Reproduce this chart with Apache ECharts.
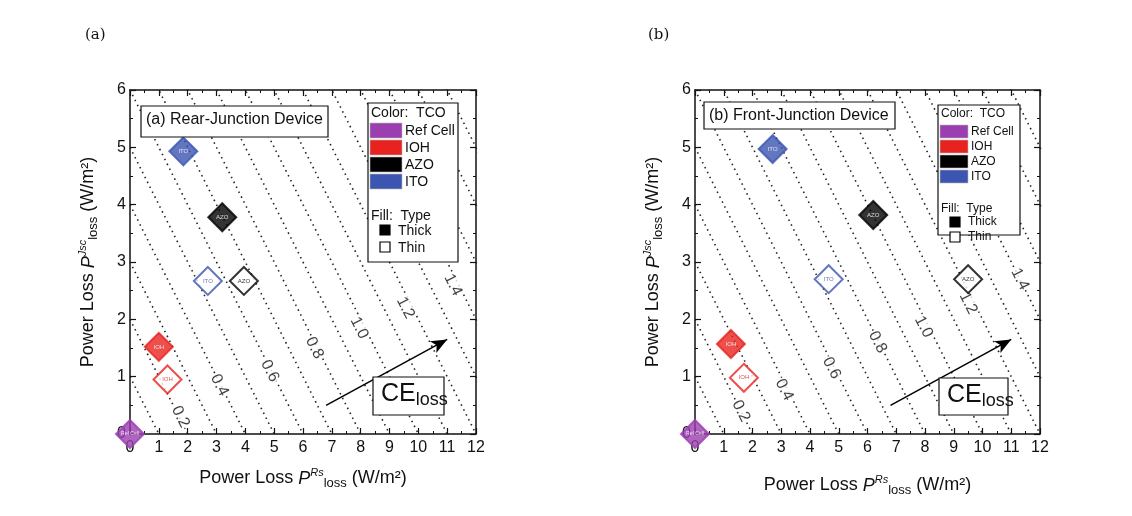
<!DOCTYPE html><html><head><meta charset="utf-8">
<script src="https://cdn.jsdelivr.net/npm/echarts@6/dist/echarts.min.js"></script>
<style>body{margin:0;background:#fff}#c{width:1132px;height:516px}</style></head><body><div id="c"></div>
<script>
const tcoNames=['Ref Cell','IOH','AZO','ITO'];
const tcoColors={'Ref Cell':'#9b3fb0','IOH':'#e8231f','AZO':'#000000','ITO':'#3b55b0'};
const shortLabel={'Ref Cell':'Ref Cell','IOH':'IOH','AZO':'AZO','ITO':'ITO'};
// [tco, type, Rs loss, Jsc loss]
const rearPoints=[['Ref Cell','thick',0,0],['IOH','thick',1.0,1.52],['IOH','thin',1.3,0.95],['ITO','thick',1.85,4.93],['ITO','thin',2.7,2.67],['AZO','thick',3.2,3.78],['AZO','thin',3.95,2.67]];
const frontPoints=[['Ref Cell','thick',0,0],['IOH','thick',1.25,1.57],['IOH','thin',1.7,0.98],['ITO','thick',2.7,4.97],['ITO','thin',4.65,2.7],['AZO','thick',6.2,3.82],['AZO','thin',9.5,2.7]];
const contourLevels=[1,2,3,4,5,6,7,8,9,10,11,12,13,14,15,16,17,18];
const contourLabels=['0.2','0.4','0.6','0.8','1.0','1.2','1.4'];
const rearLabelPos=[[1.75,0.3],[3.1,0.85],[4.85,1.1],[6.4,1.5],[7.95,1.85],[9.55,2.2],[11.2,2.6]];
const frontLabelPos=[[1.6,0.4],[3.1,0.77],[4.75,1.15],[6.35,1.6],[7.95,1.87],[9.5,2.28],[11.3,2.7]];
const arrowFrom=[6.8,0.5], arrowTo=[11,1.65];

const chart=echarts.init(document.getElementById('c'));
const grids=[{left:130,top:90,width:346,height:344},{left:695,top:90,width:345,height:344}];
const xAxes=[],yAxes=[],series=[];
const tickFont={fontFamily:'Liberation Sans',fontSize:16,color:'#111'};
const F='Liberation Sans';
const xName={rich:{n:{fontSize:18,fontFamily:F,color:'#111'},p:{fontSize:18,fontStyle:'italic',fontFamily:F,color:'#111'},s:{fontSize:13,verticalAlign:'bottom',padding:[10,0,0,0],fontFamily:F,color:'#111'},u:{fontSize:11,fontStyle:'italic',verticalAlign:'top',padding:[0,0,10,0],fontFamily:F,color:'#111'}}};
grids.forEach((g,i)=>{
  const base={gridIndex:i,min:0,axisLine:{onZero:false,lineStyle:{color:'#111',width:1.5}},axisTick:{inside:true,length:6,lineStyle:{color:'#111',width:1.2}},minorTick:{show:true,splitNumber:2,length:3,lineStyle:{color:'#111'}},splitLine:{show:false}};
  xAxes.push(Object.assign({},base,{type:'value',max:12,interval:1,position:'bottom',axisLabel:Object.assign({margin:6},tickFont),
    name:'{n|Power Loss }{p|P}{u|Rs}{s|loss}{n| (W/m²)}',nameLocation:'middle',nameGap:i?40:33,nameTextStyle:xName}));
  xAxes.push(Object.assign({},base,{type:'value',max:12,interval:1,position:'top',axisLabel:{show:false}}));
  yAxes.push(Object.assign({},base,{type:'value',max:6,interval:1,position:'left',axisLabel:Object.assign({margin:4},tickFont),
    name:'{n|Power Loss }{p|P}{u|Jsc}{s|loss}{n| (W/m²)}',nameLocation:'middle',nameGap:30,nameTextStyle:xName}));
  yAxes.push(Object.assign({},base,{type:'value',max:6,interval:1,position:'right',axisLabel:{show:false}}));
  const xi=i*2, yi=i*2;
  contourLevels.forEach(k=>series.push({type:'line',xAxisIndex:xi,yAxisIndex:yi,data:[[0,k],[k,0]],symbol:'none',silent:true,clip:true,z:1,lineStyle:{type:[1.5,4],color:'#222',width:1.6}}));
  const lp=i?frontLabelPos:rearLabelPos;
  series.push({type:'scatter',xAxisIndex:xi,yAxisIndex:yi,symbolSize:0,silent:true,z:2,
    data:lp.map((p,j)=>({value:p,label:{formatter:contourLabels[j]}})),
    label:{show:true,position:'inside',rotate:-63,fontSize:16,fontFamily:F,color:'#111',backgroundColor:'#fff',padding:[0,1]}});
  const pts=i?frontPoints:rearPoints;
  series.push({type:'scatter',xAxisIndex:xi,yAxisIndex:yi,symbol:'diamond',symbolSize:[28,28],clip:false,z:5,
    data:pts.map(p=>{const c=tcoColors[p[0]];const thick=p[1]==='thick';
      return {value:[p[2],p[3]],itemStyle:{color:thick?c:'#fff',borderColor:c,borderWidth:2},
        label:{show:true,formatter:shortLabel[p[0]],position:'inside',fontSize:p[0]==='Ref Cell'?5:6,color:thick?'#fff':c,fontFamily:F}};}),
    markLine:{silent:true,symbol:['none','arrow'],symbolSize:[10,16],lineStyle:{type:'solid',color:'#000',width:1.5},label:{show:false},
      data:[[{coord:arrowFrom},{coord:arrowTo}]]}});
});
const T=(x,y,text,opt)=>({type:'text',z:100,left:x,top:y,style:Object.assign({text,fill:'#111',font:'14px Liberation Sans'},opt||{})});
const R=(x,y,w,h,fill,stroke)=>({type:'rect',z:99,shape:{x,y,width:w,height:h},style:{fill:fill||'#fff',stroke:stroke||'#111',lineWidth:1.2}});
const graphic=[];
function panel(title,tb,lg,ce){
  graphic.push(R(tb[0],tb[1],tb[2],tb[3]),T(tb[0]+5,tb[1]+6,title,{font:'16px Liberation Sans'}));
  graphic.push(R(lg[0],lg[1],lg[2],lg[3]));
  const fs=lg[4];
  graphic.push(T(lg[0]+3,lg[1]+3,'Color:  TCO',{font:fs+'px Liberation Sans'}));
  tcoNames.forEach((n,j)=>{const y=lg[1]+20+j*lg[5];
    graphic.push({type:'rect',z:100,shape:{x:lg[0]+2,y:y,width:lg[6],height:lg[5]-2},style:{fill:tcoColors[n],stroke:'#bbb',lineWidth:0.6}});
    graphic.push(T(lg[0]+lg[6]+5,y+1,n,{font:fs+'px Liberation Sans'}));});
  const fy=lg[1]+20+4*lg[5]+18;
  graphic.push(T(lg[0]+3,fy,'Fill:  Type',{font:fs+'px Liberation Sans'}));
  graphic.push(R(lg[0]+12,fy+lg[5]-1,10,10,'#000','#000'),T(lg[0]+30,fy+lg[5]-2,'Thick',{font:fs+'px Liberation Sans'}));
  graphic.push(R(lg[0]+12,fy+2*lg[5]-1,10,10,'#fff','#000'),T(lg[0]+30,fy+2*lg[5]-2,'Thin',{font:fs+'px Liberation Sans'}));
  graphic.push(R(ce[0],ce[1],ce[2],ce[3]),
    {type:'text',z:100,left:ce[0]+8,top:ce[1]+5,style:{rich:{a:{fontSize:25,fontFamily:F},b:{fontSize:18,fontFamily:F,padding:[12,0,0,0]}},text:'{a|CE}{b|loss}',fill:'#111'}});
}
panel('(a) Rear-Junction Device',[141,106,187,31],[368,103,90,159,14,17,32],[373,377,71,38]);
panel('(b) Front-Junction Device',[704,102,191,27],[938,105,82,130,12,15,28],[939,378,69,37]);
graphic.push(T(85,28,'(a)',{font:'15px DejaVu Serif'}),T(648,28,'(b)',{font:'15px DejaVu Serif'}));
chart.setOption({animation:false,grid:grids,xAxis:xAxes,yAxis:yAxes,series,graphic});
</script></body></html>
